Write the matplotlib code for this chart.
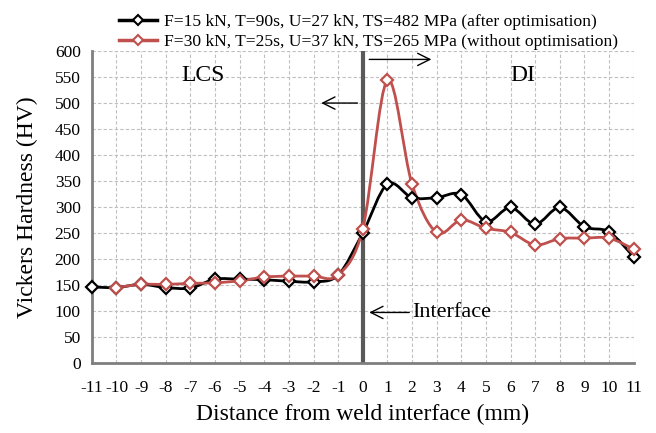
import numpy as np
import matplotlib.pyplot as plt
from matplotlib.path import Path
from matplotlib.patches import PathPatch

distance = list(range(-11, 12))
hv_optimised = [146, 145, 151, 145, 144, 161, 161, 160, 157, 156, 169, 250,
                344, 318, 318, 324, 272, 299, 267, 299, 262, 252, 204]
# the second series has no reading at -11 mm
distance_unopt = list(range(-10, 12))
hv_unoptimised = [145, 151, 151, 153, 154, 158, 165, 167, 167, 169, 258,
                  544, 344, 251, 275, 259, 251, 227, 239, 240, 240, 219]
label_opt = "F=15 kN, T=90s, U=27 kN, TS=482 MPa (after optimisation)"
label_unopt = "F=30 kN, T=25s, U=37 kN, TS=265 MPa (without optimisation)"

plt.rcParams['font.family'] = ['Liberation Serif', 'DejaVu Serif']
plt.rcParams['axes.unicode_minus'] = False


def smooth_path(x, y, t=1.0 / 6):
    # Excel-style smoothed line: cubic bezier through every point
    x = np.asarray(x, float)
    y = np.asarray(y, float)
    verts = [(x[0], y[0])]
    codes = [Path.MOVETO]
    n = len(x)
    for i in range(n - 1):
        p0 = np.array([x[max(i - 1, 0)], y[max(i - 1, 0)]])
        p1 = np.array([x[i], y[i]])
        p2 = np.array([x[i + 1], y[i + 1]])
        p3 = np.array([x[min(i + 2, n - 1)], y[min(i + 2, n - 1)]])
        c1 = p1 + (p2 - p0) * t
        c2 = p2 - (p3 - p1) * t
        verts += [tuple(c1), tuple(c2), tuple(p2)]
        codes += [Path.CURVE4] * 3
    return Path(verts, codes)


fig = plt.figure(figsize=(6.56, 4.33), dpi=100)
ax = fig.add_axes([0.140, 0.162, 0.826, 0.720])

red = '#C0504D'
for xs, ys, col, lab in [(distance, hv_optimised, 'black', label_opt),
                         (distance_unopt, hv_unoptimised, red, label_unopt)]:
    ax.add_patch(PathPatch(smooth_path(xs, ys), fill=False,
                           edgecolor=col, lw=2.0, zorder=3))
    ax.plot(xs, ys, linestyle='none', marker='D', ms=6.5,
            mfc='white', mec=col, mew=1.6, zorder=4, clip_on=False)
    ax.plot([], [], color=col, lw=2.5, marker='D', ms=5, mfc='white',
            mec=col, mew=1.5, label=lab)

ax.set_xlim(-11, 11)
ax.set_ylim(0, 600)
ax.set_xticks(distance)
ax.set_yticks(np.arange(0, 601, 50))
ax.tick_params(axis='x', length=0, labelsize=12.5, pad=12)
ax.tick_params(axis='y', length=0, labelsize=12.5, pad=8)
ax.grid(True, linestyle=(0, (3, 2)), color='#BFBFBF', lw=0.8)
ax.set_axisbelow(True)
for s in ['top', 'right']:
    ax.spines[s].set_visible(False)
for s in ['left', 'bottom']:
    ax.spines[s].set_color('#7F7F7F')
    ax.spines[s].set_linewidth(2)

ax.axvline(0, color='#595959', lw=3, zorder=2)

ax.set_xlabel('Distance from weld interface (mm)', fontsize=17, labelpad=6)
ax.set_ylabel('Vickers Hardness (HV)', fontsize=17, labelpad=12)

ax.text(-6.5, 553, 'LCS', fontsize=17, ha='center', va='center')
ax.text(6.5, 553, 'DI', fontsize=17, ha='center', va='center')
arrow = dict(arrowstyle='->', color='black', lw=1, mutation_scale=22)
ax.annotate('', xy=(-1.8, 500), xytext=(-0.1, 500), arrowprops=arrow)
ax.annotate('', xy=(2.9, 584), xytext=(0.15, 584), arrowprops=arrow)
ax.annotate('', xy=(0.15, 97), xytext=(2.0, 97), arrowprops=arrow)
ax.text(2.0, 97, 'Interface', fontsize=16, ha='left', va='center')

fig.legend(loc='upper center', bbox_to_anchor=(0.562, 1.0), frameon=False,
           fontsize=12.6, handlelength=2.2, handletextpad=0.4,
           labelspacing=0.2, borderaxespad=0.4)

fig.savefig('out.png', dpi=100)
